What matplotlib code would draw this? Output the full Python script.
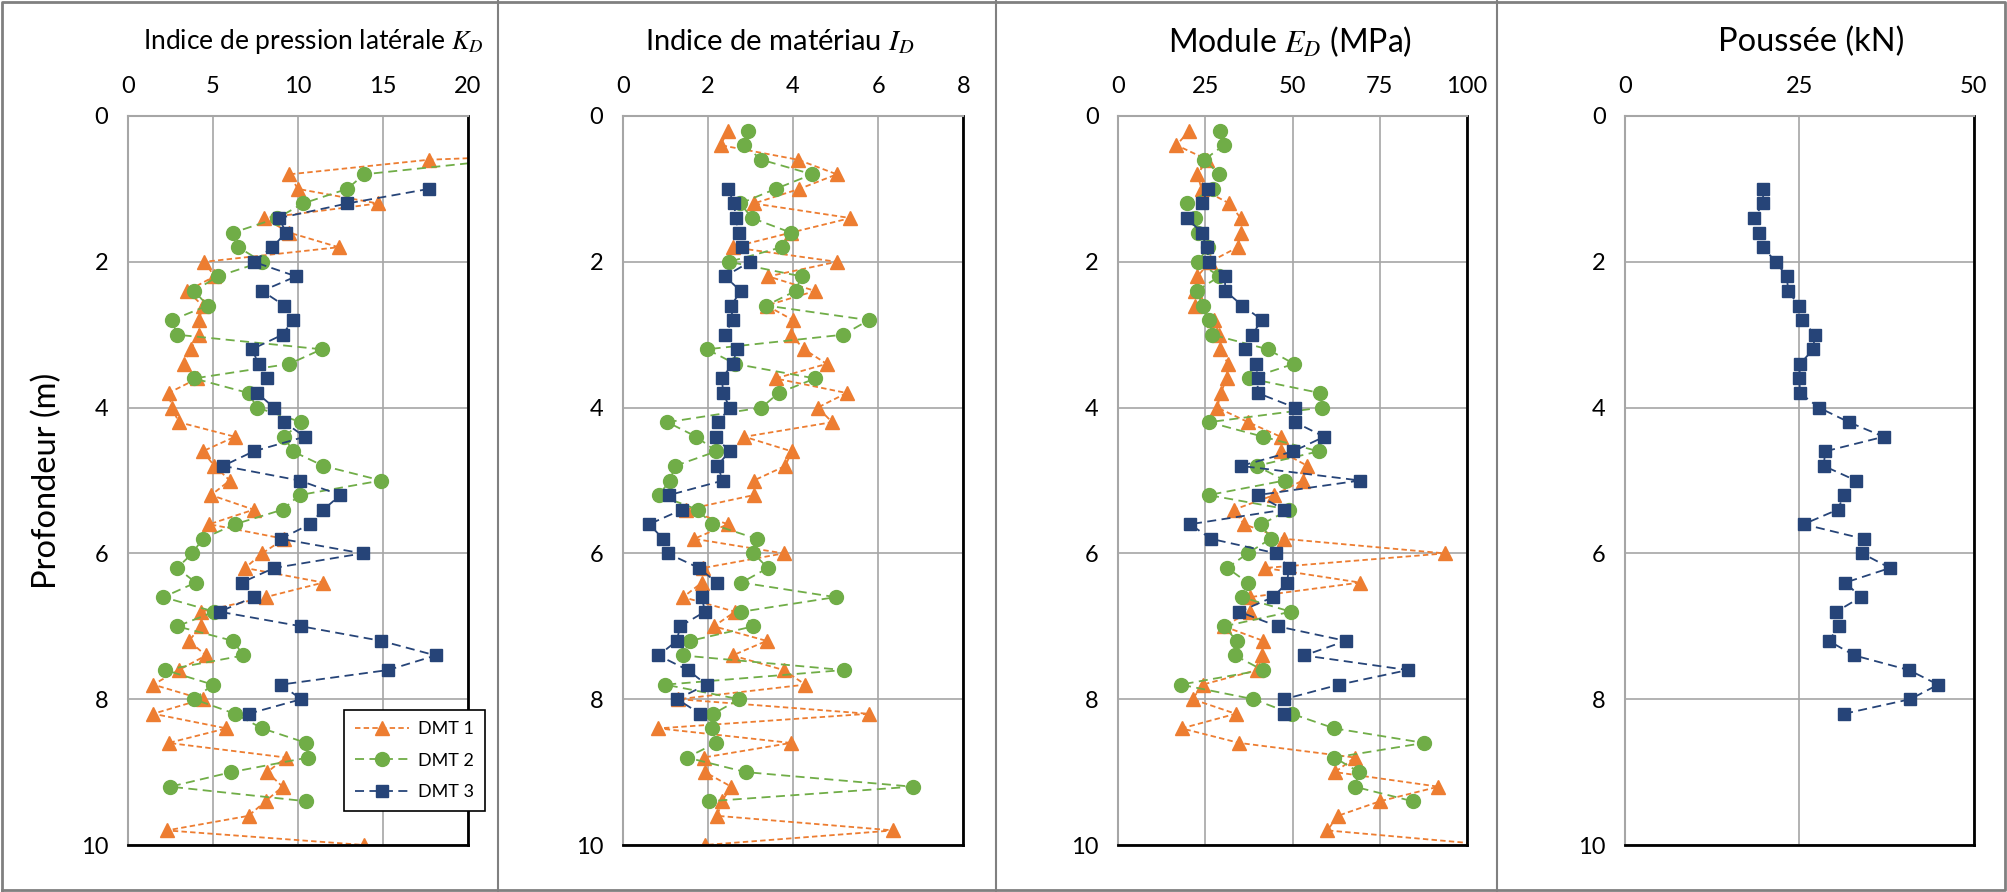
import matplotlib
matplotlib.use('Agg')
import matplotlib.pyplot as plt
from matplotlib.lines import Line2D

plt.rcParams['font.family'] = ['Lato', 'DejaVu Sans']
plt.rcParams['mathtext.fontset'] = 'stix'

# profondeurs (m)
depth = [0.2, 0.4, 0.6, 0.8, 1.0, 1.2, 1.4, 1.6, 1.8, 2.0,
         2.2, 2.4, 2.6, 2.8, 3.0, 3.2, 3.4, 3.6, 3.8, 4.0,
         4.2, 4.4, 4.6, 4.8, 5.0, 5.2, 5.4, 5.6, 5.8, 6.0,
         6.2, 6.4, 6.6, 6.8, 7.0, 7.2, 7.4, 7.6, 7.8, 8.0,
         8.2, 8.4, 8.6, 8.8, 9.0, 9.2, 9.4, 9.6, 9.8, 10.0]
depth_dmt1 = depth
depth_dmt2 = depth[:47]
depth_dmt3 = depth[4:41]

# indice de pression laterale KD
kd_dmt1 = [30, 40, 17.7, 9.5, 10.0, 14.7, 8.0, 9.5, 12.4, 4.5, 5.1, 3.5, 4.4, 4.2, 4.2,
           3.7, 3.3, 4.1, 2.4, 2.6, 3.0, 6.3, 4.4, 5.1, 6.0, 4.9, 7.4, 4.8, 9.2, 7.9,
           6.9, 11.5, 8.1, 4.3, 4.3, 3.6, 4.6, 3.0, 1.5, 4.4, 1.5, 5.8, 2.4, 9.3, 8.2,
           9.1, 8.1, 7.1, 2.3, 13.9]
kd_dmt2 = [30, 28, 22, 13.9, 12.9, 10.3, 8.8, 6.2, 6.5, 7.9, 5.3, 3.9, 4.7, 2.6, 2.9,
           11.4, 9.5, 3.9, 7.1, 7.6, 10.2, 9.2, 9.7, 11.5, 14.9, 10.1, 9.1, 6.3, 4.4, 3.8,
           2.9, 4.0, 2.1, 5.1, 2.9, 6.2, 6.8, 2.2, 5.0, 3.9, 6.3, 7.9, 10.5, 10.6, 6.1,
           2.5, 10.5]
kd_dmt3 = [17.7, 12.9, 8.9, 9.3, 8.5, 7.4, 9.9, 7.9, 9.2, 9.7, 9.1, 7.3, 7.7, 8.2, 7.6,
           8.6, 9.2, 10.4, 7.4, 5.6, 10.1, 12.5, 11.5, 10.7, 9.0, 13.8, 8.6, 6.7, 7.4, 5.4,
           10.2, 14.9, 18.1, 15.3, 9.0, 10.2, 7.1]

# indice de materiau ID
id_dmt1 = [2.47, 2.30, 4.12, 5.03, 4.15, 3.08, 5.35, 3.95, 2.58, 5.03, 3.42, 4.52, 3.38,
           4.00, 3.95, 4.26, 4.79, 3.59, 5.26, 4.58, 4.92, 2.86, 3.97, 3.82, 3.08, 3.08,
           1.49, 2.47, 1.68, 3.78, 1.89, 1.86, 1.42, 2.64, 2.14, 3.38, 2.58, 3.78, 4.29,
           1.31, 5.78, 0.84, 3.95, 1.90, 1.93, 2.55, 2.33, 2.22, 6.36, 1.93]
id_dmt2 = [2.94, 2.85, 3.26, 4.45, 3.59, 2.76, 3.04, 3.95, 3.73, 2.50, 4.20, 4.06, 3.37,
           5.78, 5.18, 1.98, 2.64, 4.52, 3.66, 3.26, 1.05, 1.73, 2.20, 1.23, 1.11, 0.85,
           1.76, 2.10, 3.15, 3.07, 3.41, 2.79, 5.00, 2.79, 3.07, 1.58, 1.41, 5.19, 1.00,
           2.74, 2.13, 2.10, 2.19, 1.51, 2.89, 6.81, 2.02]
id_dmt3 = [2.47, 2.62, 2.65, 2.73, 2.80, 2.99, 2.40, 2.77, 2.55, 2.58, 2.40, 2.69, 2.58,
           2.33, 2.36, 2.51, 2.25, 2.18, 2.51, 2.22, 2.36, 1.09, 1.39, 0.62, 0.95, 1.06,
           1.79, 2.21, 1.86, 1.93, 1.35, 1.27, 0.84, 1.53, 1.97, 1.28, 1.82]

# module ED (MPa)
ed_dmt1 = [20.4, 16.7, 25.6, 22.7, 23.9, 31.9, 35.1, 35.2, 34.3, 26.3, 22.7, 22.0, 22.0,
           27.5, 29.0, 29.2, 31.5, 31.1, 29.4, 28.4, 37.3, 46.6, 46.6, 54.3, 52.9, 44.7,
           33.2, 36.1, 47.6, 93.8, 42.1, 69.4, 37.8, 37.8, 30.3, 41.6, 41.3, 39.9, 24.2,
           21.3, 33.7, 18.2, 34.7, 67.9, 62.2, 91.9, 75.1, 63.0, 60.0, 107]
ed_dmt2 = [29.2, 30.3, 24.7, 29.0, 27.3, 19.8, 22.0, 23.0, 25.8, 22.8, 29.0, 22.5, 24.2,
           26.0, 27.0, 42.9, 50.4, 37.6, 57.9, 58.4, 26.0, 41.6, 57.5, 39.7, 47.8, 25.9,
           49.1, 41.1, 43.7, 37.1, 31.3, 37.1, 35.4, 49.5, 30.4, 34.0, 33.5, 41.4, 17.9,
           38.8, 49.8, 62.0, 87.8, 62.0, 69.1, 67.8, 84.5]
ed_dmt3 = [25.8, 24.0, 19.6, 24.0, 25.4, 26.1, 30.6, 30.7, 35.6, 41.3, 38.3, 36.4, 39.5,
           40.0, 40.0, 50.7, 50.7, 59.1, 50.2, 35.2, 69.4, 40.0, 47.6, 20.6, 26.6, 45.4,
           48.9, 48.5, 44.4, 34.7, 45.7, 65.3, 53.4, 83.1, 63.4, 47.6, 47.6]

# poussee (kN), DMT 3
thrust_dmt3 = [19.8, 19.8, 18.5, 19.2, 19.8, 21.6, 23.2, 23.4, 24.9, 25.4, 27.2, 27.0,
               25.1, 25.0, 25.1, 27.8, 32.1, 37.1, 28.7, 28.5, 33.1, 31.4, 30.5, 25.6,
               34.2, 34.0, 38.0, 31.6, 33.8, 30.3, 30.7, 29.2, 32.9, 40.7, 44.9, 40.9, 31.4]

labels = ['DMT 1', 'DMT 2', 'DMT 3']
styles = [dict(color='#ED7D31', marker='^', ms=10.5, dashes=(3, 1.8)),
          dict(color='#70AD47', marker='o', ms=10, dashes=(5, 3)),
          dict(color='#264478', marker='s', ms=8, dashes=(5, 3))]

W, H = 2007, 892
fig = plt.figure(figsize=(W / 100, H / 100), dpi=100)

bottom = 1 - 845 / H
height = 729 / H
panels = [
    (127.7, 340.3, 20, [0, 5, 10, 15, 20], 'Indice de pression latérale $K_D$', 19, 313,
     [(depth_dmt1, kd_dmt1), (depth_dmt2, kd_dmt2), (depth_dmt3, kd_dmt3)]),
    (622.7, 340.6, 8, [0, 2, 4, 6, 8], 'Indice de matériau $I_D$', 21, 780,
     [(depth_dmt1, id_dmt1), (depth_dmt2, id_dmt2), (depth_dmt3, id_dmt3)]),
    (1118.3, 348.4, 100, [0, 25, 50, 75, 100], 'Module $E_D$ (MPa)', 23, 1290,
     [(depth_dmt1, ed_dmt1), (depth_dmt2, ed_dmt2), (depth_dmt3, ed_dmt3)]),
    (1625.0, 348.7, 50, [0, 25, 50], 'Poussée (kN)', 23.5, 1811,
     [None, None, (depth_dmt3, thrust_dmt3)]),
]

axes = []
for left, width, xmax, xticks, title, tsize, tx, series in panels:
    ax = fig.add_axes([left / W, bottom, width / W, height])
    for s, st, lab in zip(series, styles, labels):
        if s is None:
            continue
        d, v = s
        ax.plot(v, d, color=st['color'], marker=st['marker'], ms=st['ms'],
                mec=st['color'], lw=1.3, dashes=st['dashes'], label=lab)
    ax.set_xlim(0, xmax)
    ax.set_ylim(10, 0)
    ax.set_xticks(xticks)
    ax.set_yticks([0, 2, 4, 6, 8, 10])
    ax.xaxis.tick_top()
    ax.tick_params(length=0, labelsize=17, pad=14)
    ax.grid(True, color='#a6a6a6', lw=1.2)
    ax.set_axisbelow(True)
    for side in ['top', 'left']:
        ax.spines[side].set_color('#a6a6a6')
        ax.spines[side].set_linewidth(1.5)
    for side in ['right', 'bottom']:
        ax.spines[side].set_color('black')
        ax.spines[side].set_linewidth(2)
    fig.text(tx / W, 1 - 42 / H, title, ha='center', va='center', fontsize=tsize)
    axes.append(ax)

leg = axes[0].legend(loc='lower right', bbox_to_anchor=(1.05, 0.047), borderaxespad=0,
                     fontsize=13, handlelength=3.0, handletextpad=0.5,
                     labelspacing=0.85, borderpad=0.6,
                     fancybox=False, edgecolor='black', framealpha=1)
leg.get_frame().set_linewidth(1.2)

fig.text(47 / W, 1 - 481 / H, 'Profondeur (m)', rotation=90, ha='center', va='center',
         fontsize=23.5)

# cadres des panneaux
for x in [498, 996, 1497]:
    fig.add_artist(Line2D([x / W, x / W], [0, 1], color='#808080', lw=1.5))
fig.add_artist(Line2D([0.001, 0.999, 0.999, 0.001, 0.001], [0.002, 0.002, 0.998, 0.998, 0.002],
                      color='#808080', lw=2))

fig.savefig('out.png', dpi=100)
